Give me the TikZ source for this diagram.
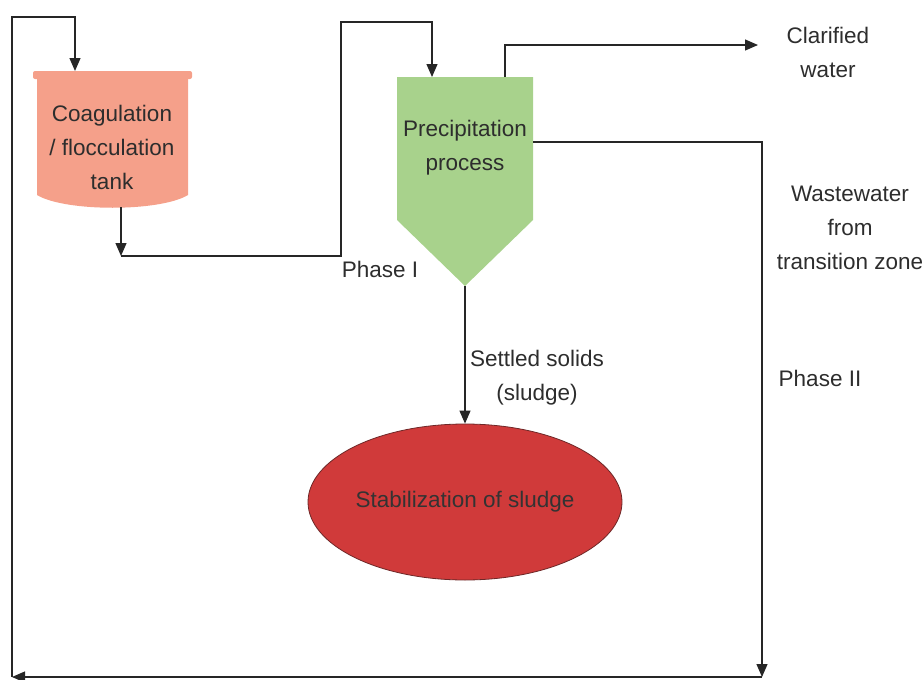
\documentclass[tikz,border=0pt]{standalone}
\usepackage{fontspec}
\setmainfont{Liberation Sans}
\usetikzlibrary{arrows.meta,shapes.geometric}
\definecolor{tankfill}{RGB}{245,160,138}
\definecolor{precfill}{RGB}{168,210,140}
\definecolor{sludgefill}{RGB}{208,58,58}
\definecolor{sludgeline}{RGB}{110,40,40}
\definecolor{txt}{RGB}{45,45,45}
\begin{document}
\begin{tikzpicture}[x=1pt,y=-1pt,
  every node/.style={font=\fontsize{22.5}{34}\selectfont, text=txt, align=center, inner sep=0pt},
  flow/.style={draw=black!85, line width=1.2pt},
  arr/.style={flow, -{Triangle[length=13pt,width=11pt]}}]
\useasboundingbox (0,0) rectangle (924,680);
% tank and settler outlines
\fill [tankfill, rounded corners=2pt] (33,71) rectangle (192,79);
\fill [tankfill] (37,76) -- (188,76) -- (188,195) .. controls (160,212) and (65,212) .. (37,195) -- cycle;
\fill [precfill] (397,77) -- (533,77) -- (533,220) -- (465,286) -- (397,220) -- cycle;
% nodes
\node (tank) at (112,147) {Coagulation\\/ flocculation\\tank};
\node (prec) at (465,148) {Precipitation\\process};
\node [ellipse, draw=sludgeline, line width=0.8pt, fill=sludgefill, minimum width=314pt, minimum height=156pt, text=black!80] (stab) at (465,502) {Stabilization of sludge};
\node (clar) at (828,52) {Clarified\\water};
\node (waste) at (850,228) {Wastewater\\from\\transition zone};
\node (ph1) at (380,269) {Phase I};
\node (ph2) at (820,378) {Phase II};
\node (solids) at (537,378) {Settled solids\\(sludge)};
% ports
\coordinate (tankN) at (75,71);
\coordinate (tankS) at (121,207);
\coordinate (tankOut) at (121,256);
\coordinate (riseTop) at (341,22);
\coordinate (precN) at (432,77);
\coordinate (precTop) at (505,77);
\coordinate (precE) at (533,142);
\coordinate (precTip) at (465,286);
\coordinate (clarIn) at (758,45);
\coordinate (loopBR) at (762,677);
\coordinate (loopBL) at (12,677);
\coordinate (loopTL) at (12,17);
% connectors
\draw [arr] (tankS) -- (tankOut);
\draw [arr] (tankOut) -| (riseTop) -| (precN);
\draw [arr] (precTop) |- (clarIn);
\draw [arr] (precTip) -- (stab.north);
\draw [arr] (precE) -| (loopBR);
\draw [arr] (loopBR) -- (loopBL);
\draw [arr] (loopBL) -- (loopTL) -| (tankN);
\end{tikzpicture}
\end{document}
